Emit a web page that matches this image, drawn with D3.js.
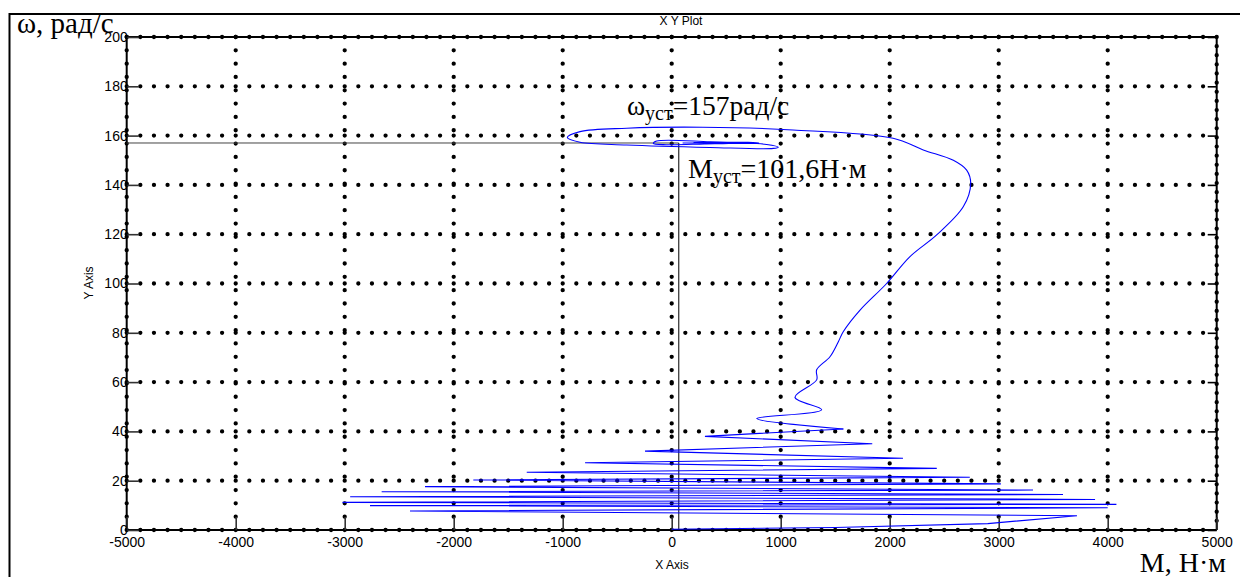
<!DOCTYPE html>
<html>
<head>
<meta charset="utf-8">
<script src="https://cdn.jsdelivr.net/npm/d3@7"></script>
<style>
  html, body { margin: 0; padding: 0; background: #fff; }
  svg { display: block; }
  .tick text { font-family: "Liberation Sans", Arial, sans-serif; font-size: 14px; fill: #000; }
  .serif { font-family: "Liberation Serif", "Times New Roman", serif; fill: #000; }
  .sans { font-family: "Liberation Sans", Arial, sans-serif; fill: #000; }
</style>
</head>
<body>
<div id="chart"></div>
<script>
// axis setup
const xDomain = [-5000, 5000]
const yDomain = [0, 200]
const xTicks = [-5000, -4000, -3000, -2000, -1000, 0, 1000, 2000, 3000, 4000, 5000]
const yTicks = [0, 20, 40, 60, 80, 100, 120, 140, 160, 180, 200]

// steady state (omega line at 157, M line)
const steadyW = 157
const steadyM = 65

// start-up oscillation, M (x) / omega (y)
const swingM = [
  0, 1500, 2900, 3718, -2401, 4000, -2768, 4080, -3020, 3884, -2950, 3590,
  -2661, 3315, -2263, 3020, -1820, 2735, -1330, 2432, -795, 2122, -245, 1840,
  305, 1575
]
const swingW = [
  0.3, 1.0, 2.6, 5.8, 7.7, 9.0, 9.9, 10.4, 11.2, 12.4, 13.5, 14.4,
  15.5, 16.2, 17.6, 18.7, 20.3, 21.4, 23.4, 25.0, 27.3, 29.1, 32.0, 35.0,
  38.0, 41.0
]
// acceleration and settling spiral
const riseM = [
  1575, 780, 1376, 1131, 1330, 1330, 1452, 1529, 1575, 1728, 1972,
  2186, 2431, 2676, 2743, 2706, 2584, 2308, 2031, 1113, 287, -413, -841,
  -958, -841, -413, 351, 932, 978, 871, 351, -138, -168, -50, 300,
  560, 430, 200, 500, 800, 700, 400, 100
]
const riseW = [
  41.0, 45.2, 48.8, 53.8, 60.9, 65.0, 70.3, 76.4, 80.5, 89.2, 100,
  110.9, 119.7, 131.2, 140.6, 146.0, 150.0, 154.2, 158.9, 162.3, 163.4, 163.0, 161.6,
  159.2, 157.3, 156.2, 155.2, 154.8, 155.3, 156.4, 157.5, 157.8, 156.8, 156.3, 156.6,
  156.9, 157.3, 157.2, 156.8, 157.0, 157.3, 157.2, 157.0
]

const width = 1240, height = 577

const svg = d3.select('#chart').append('svg')
  .attr('width', width)
  .attr('height', height)

const x = d3.scaleLinear().domain(xDomain).range([126.7, 1216.7])
const y = d3.scaleLinear().domain(yDomain).range([530, 37])

// outer frame
svg.append('rect')
  .attr('x', 9.5).attr('y', 14)
  .attr('width', 1300).attr('height', 700)
  .attr('fill', 'none').attr('stroke', '#000').attr('stroke-width', 2)

const hStep = (x(1000) - x(0)) / 8
const vStep = (y(0) - y(200)) / 37

// dotted grid
const grid = svg.append('g')
grid.selectAll('.hg').data(yTicks.filter(d => d > 0 && d < 200)).enter()
  .append('line')
  .attr('x1', x(-5000)).attr('x2', x(5000))
  .attr('y1', d => y(d)).attr('y2', d => y(d))
  .attr('stroke', '#000').attr('stroke-width', 4.3)
  .attr('stroke-linecap', 'round')
  .attr('stroke-dasharray', `0 ${hStep}`)
grid.selectAll('.vg').data(xTicks.filter(d => d > -5000 && d < 5000)).enter()
  .append('line')
  .attr('x1', d => x(d)).attr('x2', d => x(d))
  .attr('y1', y(200)).attr('y2', y(0))
  .attr('stroke', '#000').attr('stroke-width', 4.3)
  .attr('stroke-linecap', 'round')
  .attr('stroke-dasharray', `0 ${vStep}`)

// frame of plot: solid lines + dots
const frame = svg.append('g')
const edges = [
  { x1: x(-5000), y1: y(200), x2: x(5000), y2: y(200), step: hStep },
  { x1: x(-5000), y1: y(0), x2: x(5000), y2: y(0), step: hStep },
  { x1: x(-5000), y1: y(200), x2: x(-5000), y2: y(0), step: vStep },
  { x1: x(5000), y1: y(200), x2: x(5000), y2: y(0), step: (y(0) - y(200)) / 54 }
]
frame.selectAll('.solid').data(edges).enter().append('line')
  .attr('x1', d => d.x1).attr('y1', d => d.y1)
  .attr('x2', d => d.x2).attr('y2', d => d.y2)
  .attr('stroke', '#000').attr('stroke-width', 2)
frame.selectAll('.dots').data(edges).enter().append('line')
  .attr('x1', d => d.x1).attr('y1', d => d.y1)
  .attr('x2', d => d.x2).attr('y2', d => d.y2)
  .attr('stroke', '#000').attr('stroke-width', 4.3)
  .attr('stroke-linecap', 'round')
  .attr('stroke-dasharray', d => `0 ${d.step}`)

// axes
const xAxis = svg.append('g')
  .attr('transform', `translate(0,${y(0)})`)
  .call(d3.axisBottom(x).tickValues(xTicks).tickFormat(d => String(d))
    .tickSize(-13).tickSizeOuter(0).tickPadding(7))
xAxis.select('.domain').remove()
xAxis.selectAll('.tick line').attr('stroke', '#333').attr('stroke-width', 1.6)

const yAxis = svg.append('g')
  .attr('transform', `translate(${x(-5000)},0)`)
  .call(d3.axisLeft(y).tickValues(yTicks).tickFormat(d => String(d))
    .tickSize(-12).tickSizeOuter(0).tickPadding(-1))
yAxis.select('.domain').remove()
yAxis.selectAll('.tick line').attr('stroke', '#333').attr('stroke-width', 1.6)

const yAxisR = svg.append('g')
  .attr('transform', `translate(${x(5000)},0)`)
  .call(d3.axisRight(y).tickValues(yTicks).tickSize(-9).tickSizeOuter(0).tickFormat(''))
yAxisR.select('.domain').remove()
yAxisR.selectAll('.tick line').attr('stroke', '#000').attr('stroke-width', 1.6)

// steady-state lines
svg.append('line')
  .attr('x1', x(-5000)).attr('x2', x(steadyM))
  .attr('y1', y(steadyW)).attr('y2', y(steadyW))
  .attr('stroke', '#444').attr('stroke-width', 1)
svg.append('line')
  .attr('x1', x(steadyM)).attr('x2', x(steadyM))
  .attr('y1', y(steadyW)).attr('y2', y(0))
  .attr('stroke', '#000').attr('stroke-width', 1)

// trajectory
const swing = swingM.map((m, i) => [m, swingW[i]])
const rise = riseM.map((m, i) => [m, riseW[i]])
svg.append('path')
  .datum(swing)
  .attr('fill', 'none')
  .attr('stroke', '#0000ff')
  .attr('stroke-width', 1.1)
  .attr('d', d3.line().x(d => x(d[0])).y(d => y(d[1])))
svg.append('path')
  .datum(rise)
  .attr('fill', 'none')
  .attr('stroke', '#0000ff')
  .attr('stroke-width', 1.1)
  .attr('d', d3.line().curve(d3.curveCatmullRom.alpha(0.5)).x(d => x(d[0])).y(d => y(d[1])))

// titles
svg.append('text').attr('class', 'sans')
  .attr('x', 681).attr('y', 25).attr('text-anchor', 'middle')
  .attr('font-size', 12).text('X Y Plot')
svg.append('text').attr('class', 'sans')
  .attr('x', 672).attr('y', 569).attr('text-anchor', 'middle')
  .attr('font-size', 12).text('X Axis')
svg.append('text').attr('class', 'sans')
  .attr('transform', 'translate(93,283) rotate(-90)')
  .attr('text-anchor', 'middle')
  .attr('font-size', 12).text('Y Axis')

svg.append('text').attr('class', 'serif')
  .attr('x', 17).attr('y', 33).attr('font-size', 29)
  .text('ω, рад/с')
svg.append('text').attr('class', 'serif')
  .attr('x', 1226).attr('y', 572).attr('text-anchor', 'end').attr('font-size', 28)
  .text('M, Н·м')

const a1 = svg.append('text').attr('class', 'serif')
  .attr('x', 627).attr('y', 115).attr('font-size', 27.5)
a1.append('tspan').text('ω')
a1.append('tspan').attr('font-size', 20).attr('dy', 5).text('уст')
a1.append('tspan').attr('dy', -5).text('=157рад/с')

const a2 = svg.append('text').attr('class', 'serif')
  .attr('x', 688).attr('y', 178).attr('font-size', 28)
a2.append('tspan').text('M')
a2.append('tspan').attr('font-size', 20).attr('dy', 5).text('уст')
a2.append('tspan').attr('dy', -5).text('=101,6Н·м')
</script>
</body>
</html>
